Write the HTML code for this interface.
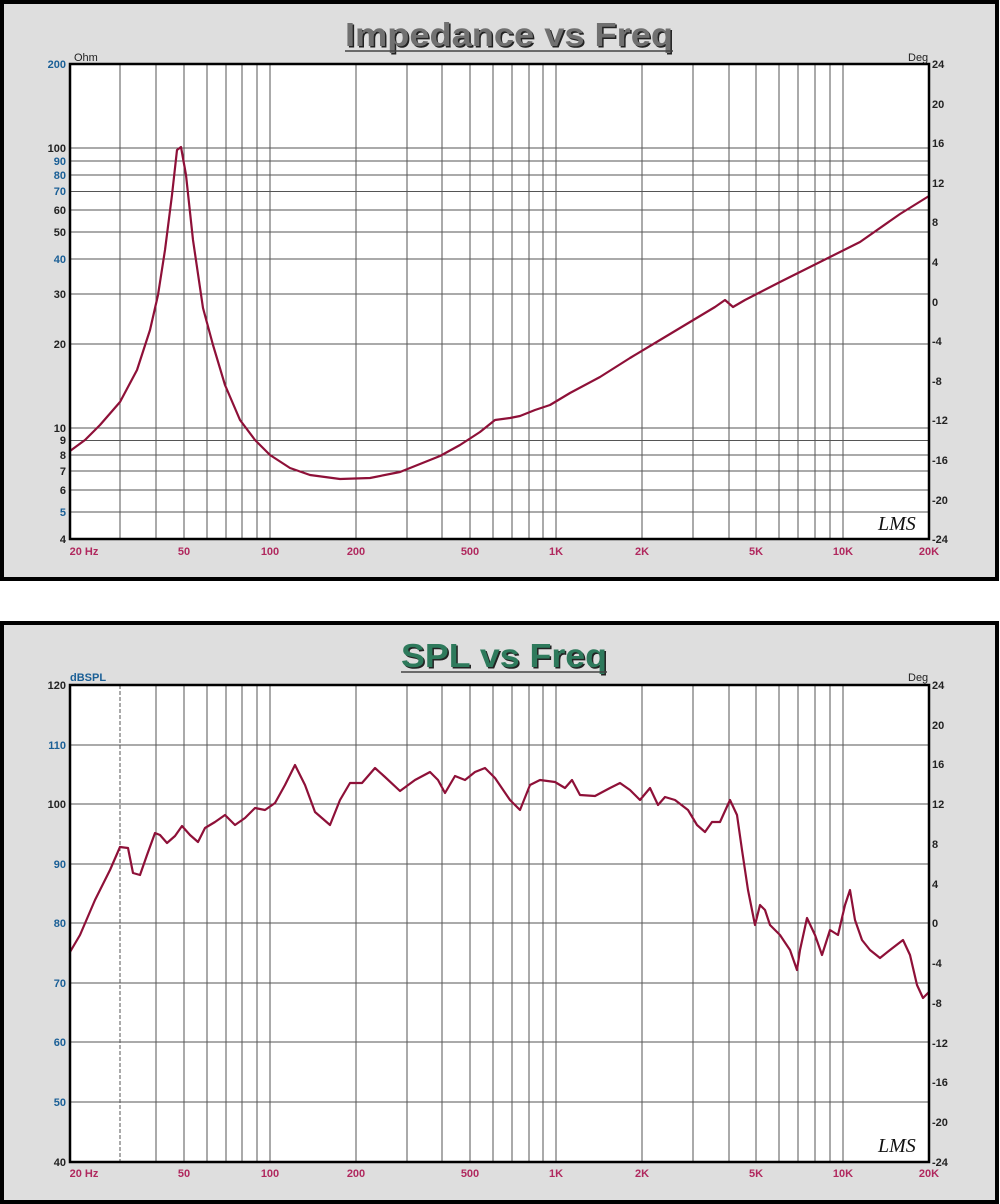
<!DOCTYPE html>
<html><head><meta charset="utf-8"><style>
html,body{margin:0;padding:0;background:#fff;}
svg{display:block;font-family:"Liberation Sans",Arial,sans-serif;}
.g line{stroke:#555;stroke-width:1;}
.yl{font-size:11px;font-weight:bold;fill:#1a5f96;text-anchor:end;}
.yk{font-size:11px;font-weight:bold;fill:#222;text-anchor:end;}
.rl{font-size:11px;font-weight:bold;fill:#222;text-anchor:start;}
.xl{font-size:11px;font-weight:bold;fill:#b0285e;text-anchor:middle;}
.curve{fill:none;stroke:#8e1038;stroke-width:2.2;stroke-linejoin:round;stroke-linecap:round;}
</style></head><body>
<svg width="1000" height="1204" viewBox="0 0 1000 1204">
<!-- ===== TOP PANEL ===== -->
<rect x="2" y="2" width="995" height="577" fill="#dedede" stroke="#000" stroke-width="4"/>
<text x="345" y="46" font-size="33" font-weight="bold" fill="#222" textLength="328" lengthAdjust="spacingAndGlyphs" transform="translate(1.5,1.5)">Impedance vs Freq</text>
<text x="345" y="46" font-size="33" font-weight="bold" fill="#707070" textLength="328" lengthAdjust="spacingAndGlyphs">Impedance vs Freq</text>
<line x1="345" y1="51" x2="673" y2="51" stroke="#444" stroke-width="1.5"/>
<rect x="70" y="64" width="859" height="475" fill="#fff"/>
<g class="g">
<line x1="120" y1="64" x2="120" y2="539"/><line x1="156" y1="64" x2="156" y2="539"/><line x1="184" y1="64" x2="184" y2="539"/><line x1="207" y1="64" x2="207" y2="539"/><line x1="226" y1="64" x2="226" y2="539"/><line x1="242" y1="64" x2="242" y2="539"/><line x1="257" y1="64" x2="257" y2="539"/><line x1="270" y1="64" x2="270" y2="539"/>
<line x1="356" y1="64" x2="356" y2="539"/><line x1="407" y1="64" x2="407" y2="539"/><line x1="442" y1="64" x2="442" y2="539"/><line x1="470" y1="64" x2="470" y2="539"/><line x1="493" y1="64" x2="493" y2="539"/><line x1="512" y1="64" x2="512" y2="539"/><line x1="529" y1="64" x2="529" y2="539"/><line x1="543" y1="64" x2="543" y2="539"/><line x1="556" y1="64" x2="556" y2="539"/>
<line x1="642" y1="64" x2="642" y2="539"/><line x1="693" y1="64" x2="693" y2="539"/><line x1="729" y1="64" x2="729" y2="539"/><line x1="756" y1="64" x2="756" y2="539"/><line x1="779" y1="64" x2="779" y2="539"/><line x1="798" y1="64" x2="798" y2="539"/><line x1="815" y1="64" x2="815" y2="539"/><line x1="830" y1="64" x2="830" y2="539"/><line x1="843" y1="64" x2="843" y2="539"/>
<line x1="70" y1="512" x2="929" y2="512"/><line x1="70" y1="490" x2="929" y2="490"/><line x1="70" y1="471" x2="929" y2="471"/><line x1="70" y1="455" x2="929" y2="455"/><line x1="70" y1="440.5" x2="929" y2="440.5"/><line x1="70" y1="428" x2="929" y2="428"/><line x1="70" y1="344" x2="929" y2="344"/><line x1="70" y1="294" x2="929" y2="294"/><line x1="70" y1="259" x2="929" y2="259"/><line x1="70" y1="232" x2="929" y2="232"/><line x1="70" y1="210" x2="929" y2="210"/><line x1="70" y1="191.5" x2="929" y2="191.5"/><line x1="70" y1="175" x2="929" y2="175"/><line x1="70" y1="161" x2="929" y2="161"/><line x1="70" y1="148" x2="929" y2="148"/>
</g>
<polyline class="curve" points="70,451 85,440 100,425 120,402 137,370 150,330 158,295 165,250 172,195 177,150 181,147 186,175 193,240 203,308 213,345 225,385 240,420 255,440 270,455 290,468 310,475 340,479 370,478 400,472 420,464 440,456 460,445 480,432 495,420 510,418 520,416 535,410 550,405 570,393 600,377 630,358 660,340 690,322 715,307 725,300 733,307 745,300 780,282 820,262 860,242 900,214 929,196"/>
<rect x="70" y="64" width="859" height="475" fill="none" stroke="#000" stroke-width="2.5"/>
<text x="74" y="61" font-size="11" fill="#222">Ohm</text>
<text x="908" y="61" font-size="11" fill="#222">Deg</text>
<text x="66" y="68" class="yl">200</text>
<text x="66" y="152" class="yk">100</text><text x="66" y="165" class="yl">90</text><text x="66" y="179" class="yl">80</text><text x="66" y="195" class="yl">70</text><text x="66" y="214" class="yk">60</text><text x="66" y="236" class="yk">50</text><text x="66" y="263" class="yl">40</text><text x="66" y="298" class="yk">30</text><text x="66" y="348" class="yk">20</text>
<text x="66" y="432" class="yk">10</text><text x="66" y="444" class="yk">9</text><text x="66" y="459" class="yk">8</text><text x="66" y="475" class="yk">7</text><text x="66" y="494" class="yk">6</text><text x="66" y="516" class="yl">5</text><text x="66" y="543" class="yk">4</text>
<text x="932" y="68" class="rl">24</text><text x="932" y="108" class="rl">20</text><text x="932" y="147" class="rl">16</text><text x="932" y="187" class="rl">12</text><text x="932" y="226" class="rl">8</text><text x="932" y="266" class="rl">4</text><text x="932" y="306" class="rl">0</text><text x="932" y="345" class="rl">-4</text><text x="932" y="385" class="rl">-8</text><text x="932" y="424" class="rl">-12</text><text x="932" y="464" class="rl">-16</text><text x="932" y="504" class="rl">-20</text><text x="932" y="543" class="rl">-24</text>
<text x="84" y="555" class="xl">20 Hz</text><text x="184" y="555" class="xl">50</text><text x="270" y="555" class="xl">100</text><text x="356" y="555" class="xl">200</text><text x="470" y="555" class="xl">500</text><text x="556" y="555" class="xl">1K</text><text x="642" y="555" class="xl">2K</text><text x="756" y="555" class="xl">5K</text><text x="843" y="555" class="xl">10K</text><text x="929" y="555" class="xl">20K</text>
<text x="878" y="530" font-size="20" font-style="italic" fill="#111" font-family="Liberation Serif,serif">LMS</text>

<!-- ===== BOTTOM PANEL ===== -->
<rect x="2" y="623" width="995" height="579" fill="#dedede" stroke="#000" stroke-width="4"/>
<text x="401" y="667" font-size="33" font-weight="bold" fill="#222" textLength="206" lengthAdjust="spacingAndGlyphs" transform="translate(1.5,1.5)">SPL vs Freq</text>
<text x="401" y="667" font-size="33" font-weight="bold" fill="#2e7a5c" textLength="206" lengthAdjust="spacingAndGlyphs">SPL vs Freq</text>
<line x1="401" y1="672" x2="607" y2="672" stroke="#444" stroke-width="1.5"/>
<rect x="70" y="685" width="859" height="477" fill="#fff"/>
<g class="g">
<line x1="120" y1="685" x2="120" y2="1162" stroke-dasharray="4,2"/><line x1="156" y1="685" x2="156" y2="1162"/><line x1="184" y1="685" x2="184" y2="1162"/><line x1="207" y1="685" x2="207" y2="1162"/><line x1="226" y1="685" x2="226" y2="1162"/><line x1="242" y1="685" x2="242" y2="1162"/><line x1="257" y1="685" x2="257" y2="1162"/><line x1="270" y1="685" x2="270" y2="1162"/>
<line x1="356" y1="685" x2="356" y2="1162"/><line x1="407" y1="685" x2="407" y2="1162"/><line x1="442" y1="685" x2="442" y2="1162"/><line x1="470" y1="685" x2="470" y2="1162"/><line x1="493" y1="685" x2="493" y2="1162"/><line x1="512" y1="685" x2="512" y2="1162"/><line x1="529" y1="685" x2="529" y2="1162"/><line x1="543" y1="685" x2="543" y2="1162"/><line x1="556" y1="685" x2="556" y2="1162"/>
<line x1="642" y1="685" x2="642" y2="1162"/><line x1="693" y1="685" x2="693" y2="1162"/><line x1="729" y1="685" x2="729" y2="1162"/><line x1="756" y1="685" x2="756" y2="1162"/><line x1="779" y1="685" x2="779" y2="1162"/><line x1="798" y1="685" x2="798" y2="1162"/><line x1="815" y1="685" x2="815" y2="1162"/><line x1="830" y1="685" x2="830" y2="1162"/><line x1="843" y1="685" x2="843" y2="1162"/>
<line x1="70" y1="745" x2="929" y2="745"/><line x1="70" y1="804" x2="929" y2="804"/><line x1="70" y1="864" x2="929" y2="864"/><line x1="70" y1="923" x2="929" y2="923"/><line x1="70" y1="983" x2="929" y2="983"/><line x1="70" y1="1042" x2="929" y2="1042"/><line x1="70" y1="1102" x2="929" y2="1102"/>
</g>
<polyline class="curve" points="70,952 80,935 95,900 110,870 120,847 128,848 133,873 140,875 147,855 155,833 160,835 167,843 175,836 182,826 190,835 198,842 205,828 215,822 225,815 235,825 245,818 255,808 265,810 275,803 285,785 295,765 305,785 315,812 330,825 340,800 350,783 362,783 375,768 385,777 400,791 415,780 430,772 438,780 445,793 455,776 465,780 475,772 485,768 495,778 510,800 520,810 530,785 540,780 555,782 565,788 572,780 580,795 595,796 610,788 620,783 630,790 640,800 650,788 658,805 665,797 675,800 688,810 697,825 705,832 712,822 720,822 730,800 737,815 742,850 748,890 755,925 760,905 765,910 770,925 780,935 790,950 797,970 800,950 807,918 815,935 822,955 830,930 838,935 845,905 850,890 855,920 862,940 870,950 880,958 890,950 903,940 910,955 917,985 923,998 929,992"/>
<rect x="70" y="685" width="859" height="477" fill="none" stroke="#000" stroke-width="2.5"/>
<text x="70" y="681" font-size="11" fill="#1a5f96" font-weight="bold">dBSPL</text>
<text x="908" y="681" font-size="11" fill="#222">Deg</text>
<text x="66" y="689" class="yk">120</text><text x="66" y="749" class="yl">110</text><text x="66" y="808" class="yk">100</text><text x="66" y="868" class="yl">90</text><text x="66" y="927" class="yl">80</text><text x="66" y="987" class="yl">70</text><text x="66" y="1046" class="yl">60</text><text x="66" y="1106" class="yl">50</text><text x="66" y="1166" class="yk">40</text>
<text x="932" y="689" class="rl">24</text><text x="932" y="729" class="rl">20</text><text x="932" y="768" class="rl">16</text><text x="932" y="808" class="rl">12</text><text x="932" y="848" class="rl">8</text><text x="932" y="888" class="rl">4</text><text x="932" y="927" class="rl">0</text><text x="932" y="967" class="rl">-4</text><text x="932" y="1007" class="rl">-8</text><text x="932" y="1047" class="rl">-12</text><text x="932" y="1086" class="rl">-16</text><text x="932" y="1126" class="rl">-20</text><text x="932" y="1166" class="rl">-24</text>
<text x="84" y="1177" class="xl">20 Hz</text><text x="184" y="1177" class="xl">50</text><text x="270" y="1177" class="xl">100</text><text x="356" y="1177" class="xl">200</text><text x="470" y="1177" class="xl">500</text><text x="556" y="1177" class="xl">1K</text><text x="642" y="1177" class="xl">2K</text><text x="756" y="1177" class="xl">5K</text><text x="843" y="1177" class="xl">10K</text><text x="929" y="1177" class="xl">20K</text>
<text x="878" y="1152" font-size="20" font-style="italic" fill="#111" font-family="Liberation Serif,serif">LMS</text>
</svg>
</body></html>
